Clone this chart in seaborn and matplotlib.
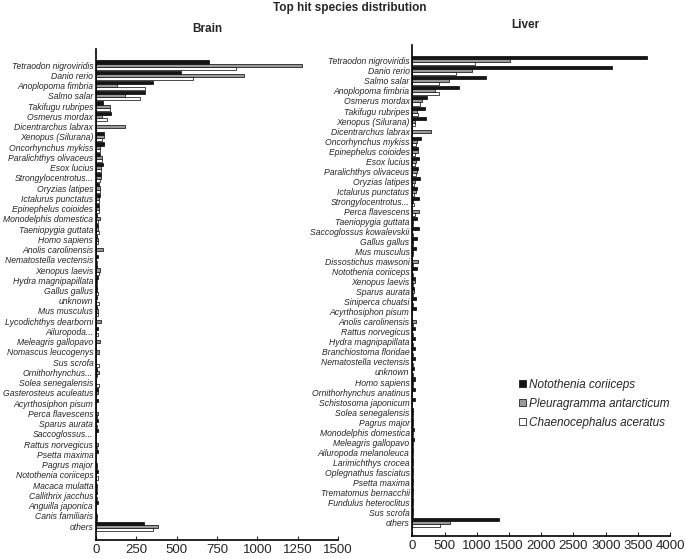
import matplotlib
matplotlib.use("Agg")
import matplotlib.pyplot as plt
from matplotlib.patches import Patch
import seaborn as sns
import pandas as pd

### data (hit counts)

samples = ["Notothenia coriiceps", "Pleuragramma antarcticum", "Chaenocephalus aceratus"]
colors = ["#151515", "#9a9a9a", "#ffffff"]

brain_species = [
    "Tetraodon nigroviridis", "Danio rerio", "Anoplopoma fimbria", "Salmo salar",
    "Takifugu rubripes", "Osmerus mordax", "Dicentrarchus labrax", "Xenopus (Silurana)",
    "Oncorhynchus mykiss", "Paralichthys olivaceus", "Esox lucius", "Strongylocentrotus...",
    "Oryzias latipes", "Ictalurus punctatus", "Epinephelus coioides", "Monodelphis domestica",
    "Taeniopygia guttata", "Homo sapiens", "Anolis carolinensis", "Nematostella vectensis",
    "Xenopus laevis", "Hydra magnipapillata", "Gallus gallus", "unknown",
    "Mus musculus", "Lycodichthys dearborni", "Ailuropoda...", "Meleagris gallopavo",
    "Nomascus leucogenys", "Sus scrofa", "Ornithorhynchus...", "Solea senegalensis",
    "Gasterosteus aculeatus", "Acyrthosiphon pisum", "Perca flavescens", "Sparus aurata",
    "Saccoglossus...", "Rattus norvegicus", "Psetta maxima", "Pagrus major",
    "Notothenia coriiceps", "Macaca mulatta", "Callithrix jacchus", "Anguilla japonica",
    "Canis familiaris", "others",
]
brain_noto = [700, 527, 353, 304, 41, 93, 0, 52, 48, 25, 41, 29, 19, 23, 19, 8,
              14, 8, 0, 10, 8, 12, 8, 3, 4, 0, 12, 0, 0, 0, 3, 0,
              10, 10, 0, 10, 10, 0, 12, 0, 12, 0, 8, 10, 0, 300]
brain_pleu = [1275, 918, 128, 180, 87, 35, 180, 52, 25, 38, 29, 29, 25, 21, 21, 27,
              12, 14, 42, 2, 25, 3, 5, 0, 14, 31, 0, 22, 19, 0, 20, 0,
              14, 0, 12, 0, 0, 12, 0, 5, 0, 8, 0, 0, 8, 386]
brain_chae = [870, 603, 304, 275, 87, 70, 0, 35, 25, 35, 31, 25, 23, 17, 19, 14,
              19, 10, 0, 3, 20, 5, 15, 20, 14, 0, 14, 0, 0, 19, 5, 16,
              0, 0, 5, 3, 0, 5, 0, 3, 10, 3, 8, 0, 3, 350]

liver_species = [
    "Tetraodon nigroviridis", "Danio rerio", "Salmo salar", "Anoplopoma fimbria",
    "Osmerus mordax", "Takifugu rubripes", "Xenopus (Silurana)", "Dicentrarchus labrax",
    "Oncorhynchus mykiss", "Epinephelus coioides", "Esox lucius", "Paralichthys olivaceus",
    "Oryzias latipes", "Ictalurus punctatus", "Strongylocentrotus...", "Perca flavescens",
    "Taeniopygia guttata", "Saccoglossus kowalevskii", "Gallus gallus", "Mus musculus",
    "Dissostichus mawsoni", "Notothenia coriiceps", "Xenopus laevis", "Sparus aurata",
    "Siniperca chuatsi", "Acyrthosiphon pisum", "Anolis carolinensis", "Rattus norvegicus",
    "Hydra magnipapillata", "Branchiostoma floridae", "Nematostella vectensis", "unknown",
    "Homo sapiens", "Ornithorhynchus anatinus", "Schistosoma japonicum", "Solea senegalensis",
    "Pagrus major", "Monodelphis domestica", "Meleagris gallopavo", "Ailuropoda melanoleuca",
    "Larimichthys crocea", "Oplegnathus fasciatus", "Psetta maxima", "Trematomus bernacchii",
    "Fundulus heteroclitus", "Sus scrofa", "others",
]
liver_noto = [3635, 3097, 1148, 719, 233, 202, 212, 0, 140, 93, 103, 88, 114, 78, 103, 0,
              78, 109, 67, 57, 0, 78, 47, 26, 52, 52, 0, 47, 47, 41, 41, 20,
              36, 36, 36, 15, 15, 20, 20, 15, 15, 15, 15, 10, 10, 10, 1339]
liver_pleu = [1515, 920, 563, 357, 145, 78, 47, 290, 67, 83, 62, 72, 36, 57, 10, 103,
              10, 0, 5, 10, 83, 0, 36, 31, 0, 0, 52, 0, 0, 0, 0, 0,
              5, 0, 0, 10, 10, 15, 10, 10, 10, 5, 5, 5, 5, 5, 584]
liver_chae = [977, 682, 419, 414, 119, 83, 47, 0, 62, 36, 47, 57, 26, 31, 21, 36,
              10, 5, 5, 5, 10, 5, 5, 10, 5, 0, 10, 5, 5, 5, 5, 10,
              5, 0, 0, 10, 5, 5, 5, 5, 5, 5, 5, 5, 5, 5, 424]


def to_long(species, a, b, c):
    df = pd.DataFrame({"species": species, samples[0]: a, samples[1]: b, samples[2]: c})
    return df.melt(id_vars="species", var_name="sample", value_name="hits")


sns.set_style("ticks")
plt.rcParams["font.family"] = ["Liberation Sans", "DejaVu Sans"]

fig = plt.figure(figsize=(6.86, 5.59), dpi=100)
ax_b = fig.add_axes([0.140, 0.034, 0.353, 0.878])
ax_l = fig.add_axes([0.601, 0.041, 0.376, 0.878])

panels = [
    (ax_b, to_long(brain_species, brain_noto, brain_pleu, brain_chae), 1500, 250),
    (ax_l, to_long(liver_species, liver_noto, liver_pleu, liver_chae), 4000, 500),
]

for ax, df, xmax, step in panels:
    n = df["species"].nunique()
    sns.barplot(data=df, y="species", x="hits", hue="sample", hue_order=samples,
                palette=colors, orient="h", width=0.9, edgecolor="black",
                linewidth=0.5, legend=False, ax=ax)
    ax.set_xlim(0, xmax)
    ax.set_xticks(range(0, xmax + 1, step))
    ax.set_ylim(n - 1 + 1.35, -1.55)
    ax.set_xlabel("")
    ax.set_ylabel("")
    sns.despine(ax=ax)
    for s in ["left", "bottom"]:
        ax.spines[s].set_linewidth(1.2)
        ax.spines[s].set_color("black")
    ax.tick_params(axis="x", direction="in", length=3, labelsize=9.5, pad=3)
    ax.tick_params(axis="y", length=0, labelsize=6.2, pad=2)
    for t in ax.get_yticklabels():
        t.set_fontstyle("italic")

fig.text(0.510, 1 - 8 / 559, "Top hit species distribution", ha="center", va="center",
         fontsize=8.5, fontweight="bold")
fig.text(207 / 686, 1 - 29 / 559, "Brain", ha="center", va="center",
         fontsize=8.5, fontweight="bold")
fig.text(525 / 686, 1 - 25 / 559, "Liver", ha="center", va="center",
         fontsize=8.5, fontweight="bold")

handles = [Patch(facecolor=c, edgecolor="black", linewidth=0.5) for c in colors]
leg = fig.legend(handles, samples, loc="upper left", bbox_to_anchor=(508 / 686, 1 - 368 / 559),
                 frameon=False, handlelength=0.6, handleheight=0.6, handletextpad=0.3,
                 labelspacing=0.6, prop={"size": 8.5, "style": "italic"})

fig.savefig("out.png", dpi=100)
